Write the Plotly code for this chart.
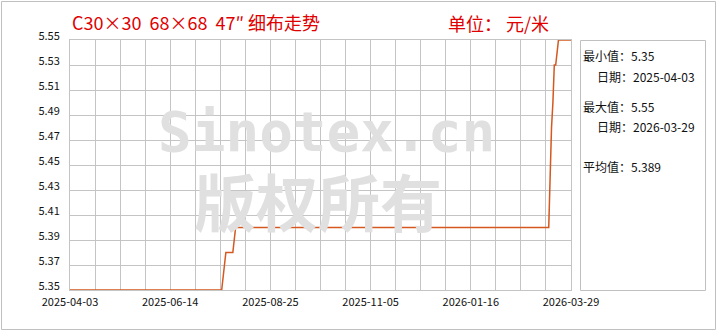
import plotly.graph_objects as go

# ---- data (change points of a step-like daily price series) ----
dates = ["2025-04-03", "2025-07-21", "2025-07-23", "2025-07-24", "2025-07-29",
         "2025-07-30", "2025-07-31", "2026-03-13", "2026-03-14", "2026-03-15",
         "2026-03-16", "2026-03-17", "2026-03-18", "2026-03-19", "2026-03-20",
         "2026-03-29"]
prices = [5.35, 5.35, 5.37, 5.38, 5.38,
          5.39, 5.40, 5.40, 5.45, 5.48,
          5.50, 5.53, 5.53, 5.54, 5.55,
          5.55]

title_text = "C30×30\u00a0\u00a068×68\u00a0\u00a047″\u00a0细布走势"
unit_text = "单位：\u00a0元/米"
x_tick_vals = ["2025-04-03", "2025-06-14", "2025-08-25", "2025-11-05", "2026-01-16", "2026-03-29"]
y_tick_vals = [5.35, 5.37, 5.39, 5.41, 5.43, 5.45, 5.47, 5.49, 5.51, 5.53, 5.55]
stats_lines = [("最小值：5.35", 0), ("日期：2025-04-03", 1), ("最大值：5.55", 0),
               ("日期：2026-03-29", 1), ("平均值：5.389", 0)]

# ---- layout geometry (pixels) ----
W, H = 720, 330
L, R, T, B = 70, 571, 40, 290


def px(x):
    return (x - L) / (R - L)


def py(y):
    return (B - y) / (B - T)


CJK = "Noto Sans CJK SC"
grid = "#c4c4c4"

fig = go.Figure()
fig.add_trace(go.Scatter(x=dates, y=prices, mode="lines",
                         line=dict(color="#d4581f", width=1.5),
                         cliponaxis=False, hoverinfo="skip", showlegend=False))

fig.update_layout(
    width=W, height=H,
    margin=dict(l=L, r=W - R, t=T, b=H - B),
    paper_bgcolor="white", plot_bgcolor="white",
    showlegend=False,
    xaxis=dict(type="date", range=["2025-04-03", "2026-03-29"],
               tickvals=x_tick_vals, ticktext=x_tick_vals,
               showgrid=True, gridcolor=grid, gridwidth=1,
               minor=dict(dtick=18 * 86400000, tick0="2025-04-03",
                          showgrid=True, gridcolor=grid, gridwidth=1),
               showline=True, mirror=True, linecolor=grid, linewidth=1,
               zeroline=False, ticks="", ticklen=0, ticklabelstandoff=2,
               tickfont=dict(family=CJK, size=11, color="#111")),
    yaxis=dict(range=[5.35, 5.55], tickvals=y_tick_vals,
               ticktext=[f"{v:.2f}" for v in y_tick_vals],
               showgrid=True, gridcolor=grid, gridwidth=1,
               showline=True, mirror=True, linecolor=grid, linewidth=1,
               zeroline=False, ticks="", ticklen=0,
               ticklabelstandoff=7, ticklabelshift=-4,
               tickfont=dict(family=CJK, size=11, color="#111")),
)

shapes = [
    dict(type="rect", xref="paper", yref="paper",
         x0=px(1.5), x1=px(715.5), y0=py(329.5), y1=py(1.5),
         line=dict(color="#c0c0c0", width=1), layer="below"),
    dict(type="rect", xref="paper", yref="paper",
         x0=px(580.5), x1=px(705.5), y0=py(290.5), y1=py(40.5),
         line=dict(color="#c0c0c0", width=1), layer="below"),
]
fig.update_layout(shapes=shapes)

ann = []
# watermark
ann.append(dict(text="<b>Sinotex.cn</b>", xref="paper", yref="paper",
                x=px(326), y=py(131), showarrow=False,
                font=dict(family="DejaVu Sans Mono", size=56, color="#e0e0e0")))
ann.append(dict(text="<b>版权所有</b>", xref="paper", yref="paper",
                x=px(318), y=py(200), showarrow=False,
                font=dict(family=CJK, size=62, color="#e0e0e0")))
# titles
ann.append(dict(text=title_text, xref="paper", yref="paper",
                x=px(70), y=py(22), xanchor="left", yanchor="middle", showarrow=False,
                font=dict(family=CJK, size=18, color="#e00000")))
ann.append(dict(text=unit_text, xref="paper", yref="paper",
                x=px(446), y=py(23), xanchor="left", yanchor="middle", showarrow=False,
                font=dict(family=CJK, size=18, color="#e00000")))
# stats box
ys = [56, 76, 106, 126, 166]
for (t, indent), yy in zip(stats_lines, ys):
    ann.append(dict(text=t, xref="paper", yref="paper",
                    x=px(581 + 14 * indent), y=py(yy), xanchor="left", yanchor="middle",
                    showarrow=False, font=dict(family=CJK, size=12, color="#111")))
fig.update_layout(annotations=ann)

fig.write_html("out.html")
